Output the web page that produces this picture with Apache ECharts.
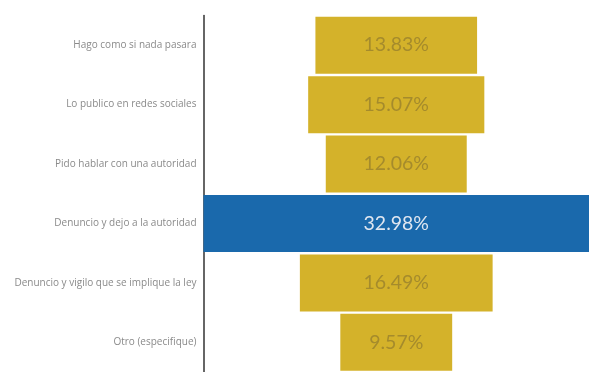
<!DOCTYPE html>
<html>
<head>
<meta charset="utf-8">
<script src="https://cdn.jsdelivr.net/npm/echarts@6/dist/echarts.min.js"></script>
<style>
  html, body { margin: 0; padding: 0; background: #ffffff; }
  #chart { width: 589px; height: 372px; }
</style>
</head>
<body>
<div id="chart"></div>
<script>
// Answer options, top to bottom
const categories = [
  'Hago como si nada pasara',
  'Lo publico en redes sociales',
  'Pido hablar con una autoridad',
  'Denuncio y dejo a la autoridad',
  'Denuncio y vigilo que se implique la ley',
  'Otro (especifique)'
];

// Share of responses, in percent
const values = [13.83, 15.07, 12.06, 32.98, 16.49, 9.57];

const maxValue = Math.max(...values);
// Transparent spacer so each bar sits centred on the same vertical line
const spacers = values.map(v => (maxValue - v) / 2);

const GOLD = '#D4B22A';
const BLUE = '#1A69AC';

const chart = echarts.init(document.getElementById('chart'), null, { renderer: 'canvas' });

chart.setOption({
  animation: false,
  backgroundColor: '#ffffff',
  grid: { left: 203.5, right: -5, top: 15.5, bottom: -5, containLabel: false },
  xAxis: {
    type: 'value',
    min: 0,
    max: maxValue,
    show: false
  },
  yAxis: {
    type: 'category',
    inverse: true,
    data: categories,
    axisLine: { show: true, lineStyle: { color: '#333333', width: 1.5 } },
    axisTick: { show: false },
    axisLabel: {
      color: '#8a8a8a',
      fontFamily: '"Open Sans", sans-serif',
      fontSize: 10,
      margin: 7
    },
    splitLine: { show: false }
  },
  series: [
    {
      type: 'bar',
      stack: 'total',
      data: spacers,
      barWidth: 57,
      itemStyle: { color: 'rgba(0,0,0,0)' },
      silent: true
    },
    {
      type: 'bar',
      stack: 'total',
      barWidth: 57,
      data: values.map(v => ({
        value: v,
        itemStyle: { color: v === maxValue ? BLUE : GOLD },
        label: { color: v === maxValue ? '#dfe6f0' : '#a58b2c' }
      })),
      label: {
        show: true,
        position: 'inside',
        fontFamily: 'Lato',
        fontWeight: 'normal',
        fontSize: 19.5,
        formatter: p => p.value.toFixed(2) + '%'
      }
    }
  ]
});
</script>
</body>
</html>
